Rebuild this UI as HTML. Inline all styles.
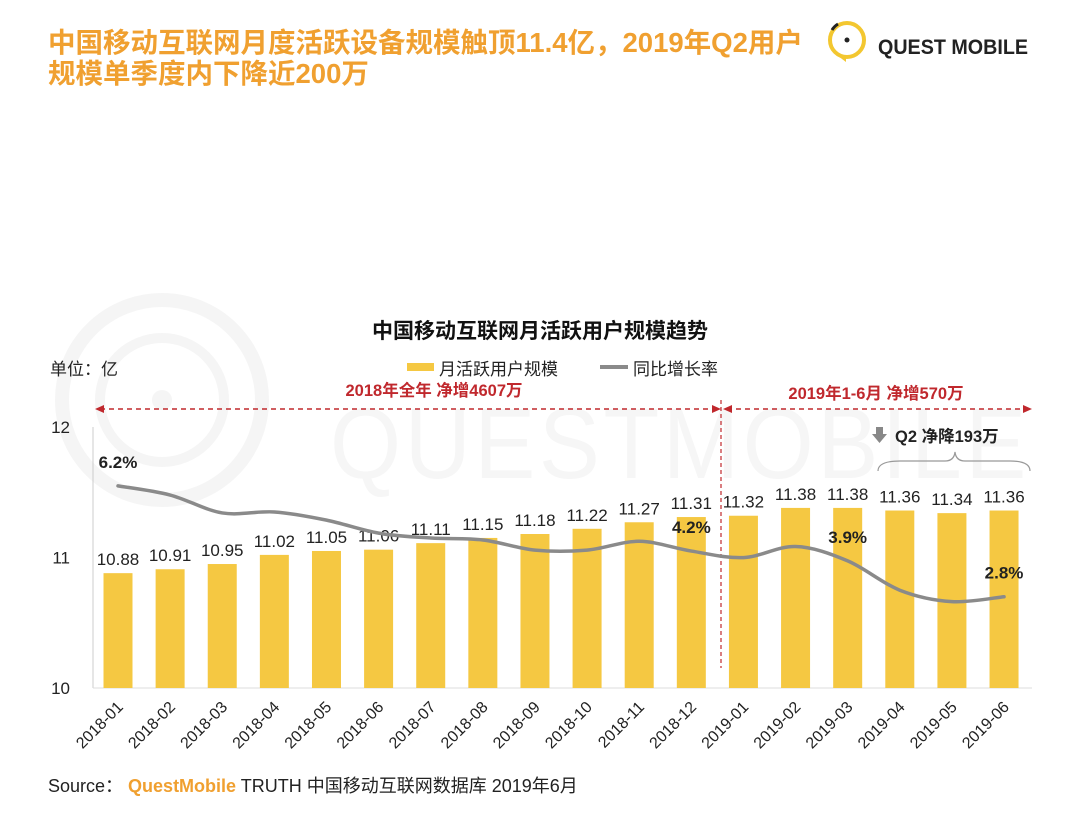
<!DOCTYPE html>
<html><head><meta charset="utf-8">
<style>
body{margin:0;background:#fff;width:1080px;height:808px;overflow:hidden;font-family:"Liberation Sans","Noto Sans CJK SC",sans-serif;}
svg text{font-family:"Liberation Sans","Noto Sans CJK SC",sans-serif;}
</style></head>
<body>
<svg id="c" width="1080" height="808" viewBox="0 0 1080 808">
  <g>
    <circle cx="162" cy="400" r="100" fill="none" stroke="#f5f5f5" stroke-width="14"/>
    <circle cx="162" cy="400" r="62" fill="none" stroke="#f5f5f5" stroke-width="10"/>
    <circle cx="162" cy="400" r="10" fill="#f5f5f5"/>
    <text x="330" y="478" font-size="100" fill="#f6f6f6" letter-spacing="4" textLength="700" lengthAdjust="spacingAndGlyphs">QUESTMOBILE</text>
  </g>
  <text x="48" y="52" font-size="27.5" font-weight="bold" fill="#f0a030">中国移动互联网月度活跃设备规模触顶11.4亿，2019年Q2用户</text>
  <text x="48" y="83" font-size="27.5" font-weight="bold" fill="#f0a030">规模单季度内下降近200万</text>
  <g>
    <circle cx="847" cy="40" r="17" fill="none" stroke="#f3c730" stroke-width="4"/>
    <path d="M838 56 L846 62 L846 55 Z" fill="#f3c730"/>
    <path d="M832 30 A18 18 0 0 1 838 24" stroke="#222" stroke-width="3" fill="none"/>
    <circle cx="847" cy="40" r="2.5" fill="#222"/>
    <text x="878" y="54" font-size="21" fill="#222" font-weight="bold" textLength="150" lengthAdjust="spacingAndGlyphs">QUEST MOBILE</text>
  </g>
  <text x="540" y="338" font-size="21" font-weight="bold" fill="#111" text-anchor="middle">中国移动互联网月活跃用户规模趋势</text>
  <text x="50" y="375" font-size="17" fill="#222">单位：亿</text>
  <g>
    <rect x="407" y="363" width="27" height="8" fill="#f5c842"/>
    <text x="439" y="375" font-size="17" fill="#222">月活跃用户规模</text>
    <line x1="600" y1="367" x2="628" y2="367" stroke="#8a8a8a" stroke-width="4"/>
    <text x="633" y="375" font-size="17" fill="#222">同比增长率</text>
  </g>
  <g>
    <text x="434" y="396" font-size="16.5" font-weight="bold" fill="#c0282d" text-anchor="middle">2018年全年  净增4607万</text>
    <text x="876" y="399" font-size="16.5" font-weight="bold" fill="#c0282d" text-anchor="middle">2019年1-6月  净增570万</text>
    <line x1="100" y1="409" x2="716" y2="409" stroke="#c0282d" stroke-width="1.5" stroke-dasharray="5,4"/>
    <path d="M95 409 L104 405 L104 413 Z" fill="#c0282d"/>
    <path d="M721 409 L712 405 L712 413 Z" fill="#c0282d"/>
    <line x1="727" y1="409" x2="1026" y2="409" stroke="#c0282d" stroke-width="1.5" stroke-dasharray="5,4"/>
    <path d="M723 409 L732 405 L732 413 Z" fill="#c0282d"/>
    <path d="M1032 409 L1023 405 L1023 413 Z" fill="#c0282d"/>
    <line x1="721" y1="400" x2="721" y2="668" stroke="#c0282d" stroke-width="1.2" stroke-dasharray="4,3"/>
    <path d="M876 427 h7 v7 h4 l-7.5 9 l-7.5 -9 h4 Z" fill="#888"/>
    <text x="895" y="442" font-size="16.5" font-weight="bold" fill="#222">Q2 净降193万</text>
    <path d="M878 471 Q878 461 900 461 L945 461 Q954 461 955 452 Q956 461 965 461 L1010 461 Q1030 461 1030 471" fill="none" stroke="#999" stroke-width="1.2"/>
  </g>
  <g id="plot"></g>
  <text x="48" y="792" font-size="18" fill="#222">Source： <tspan fill="#f0a030" font-weight="bold">QuestMobile</tspan> TRUTH 中国移动互联网数据库 2019年6月</text>
</svg>
<script>
const categories=["2018-01","2018-02","2018-03","2018-04","2018-05","2018-06","2018-07","2018-08","2018-09","2018-10","2018-11","2018-12","2019-01","2019-02","2019-03","2019-04","2019-05","2019-06"];
const mauValues=[10.88,10.91,10.95,11.02,11.05,11.06,11.11,11.15,11.18,11.22,11.27,11.31,11.32,11.38,11.38,11.36,11.34,11.36];
const growthValues=[6.2,5.92,5.37,5.4,5.15,4.75,4.6,4.54,4.23,4.23,4.5,4.2,4.0,4.34,3.9,3.0,2.65,2.8];
const growthLabels={0:"6.2%",11:"4.2%",14:"3.9%",17:"2.8%"};
const yTicks=[10,11,12];
const NS="http://www.w3.org/2000/svg";
const plot=document.getElementById('plot');
const x0=118,step=52.12,bw=29;
const xPos=i=>x0+i*step;
const yL=v=>688-(v-10)*130.5;
const yR=v=>688-v*32.6;
function mk(tag,attrs,parent){const e=document.createElementNS(NS,tag);for(const k in attrs)e.setAttribute(k,attrs[k]);(parent||plot).appendChild(e);return e;}
const ax=mk('line',{x1:93,y1:yL(12),x2:93,y2:688,stroke:'#ccc','stroke-width':1});


const bx=mk('line',{x1:93,y1:688,x2:1032,y2:688,stroke:'#ddd','stroke-width':1});


yTicks.forEach(t=>{
  const e=mk('text',{x:70,y:yL(t)+6,'font-size':17,fill:'#222','text-anchor':'end'});
  e.textContent=t;
  
  
});
categories.forEach((c,i)=>{
  const cx=xPos(i);
  const r=mk('rect',{x:cx-bw/2,y:yL(mauValues[i]),width:bw,height:688-yL(mauValues[i]),fill:'#f5c842'});
  
  
  const t=mk('text',{x:cx,y:yL(mauValues[i])-8,'font-size':17,fill:'#222','text-anchor':'middle'});
  t.textContent=mauValues[i].toFixed(2);
  
  
  const lx=cx+6,ly=708;
  const xl=mk('text',{x:lx,y:ly,'font-size':16,fill:'#222','text-anchor':'end',transform:`rotate(-45 ${lx} ${ly})`});
  xl.textContent=c;
  
  
});
const pts=growthValues.map((v,i)=>[xPos(i),yR(v)]);
let d=`M${pts[0][0]},${pts[0][1]}`;
for(let i=0;i<pts.length-1;i++){
  const p0=pts[Math.max(0,i-1)],p1=pts[i],p2=pts[i+1],p3=pts[Math.min(pts.length-1,i+2)];
  const c1=[p1[0]+(p2[0]-p0[0])/6,p1[1]+(p2[1]-p0[1])/6];
  const c2=[p2[0]-(p3[0]-p1[0])/6,p2[1]-(p3[1]-p1[1])/6];
  d+=` C${c1[0]},${c1[1]} ${c2[0]},${c2[1]} ${p2[0]},${p2[1]}`;
}
const ln=mk('path',{d:d,fill:'none',stroke:'#8a8a8a','stroke-width':3.5,'stroke-linecap':'round'});


for(const k in growthLabels){
  const i=+k;
  const e=mk('text',{x:xPos(i),y:yR(growthValues[i])-18,'font-size':17,'font-weight':'bold',fill:'#222','text-anchor':'middle'});
  e.textContent=growthLabels[k];
  
  
}
</script>
</body></html>
